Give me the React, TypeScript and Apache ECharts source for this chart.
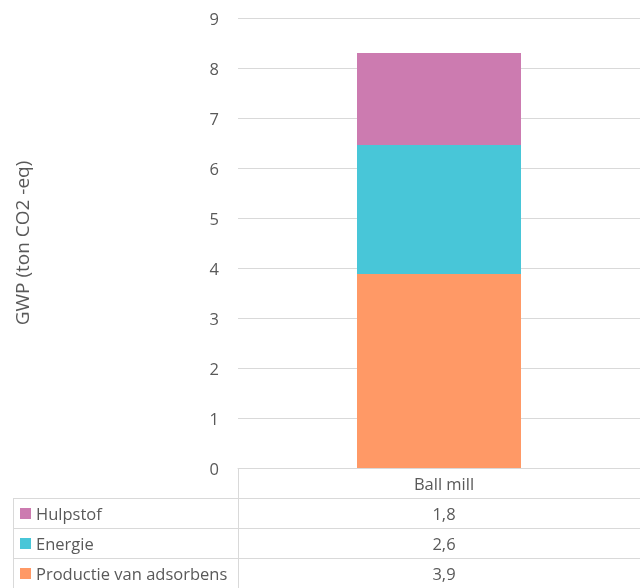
import React, { useEffect, useRef } from "react";
import * as echarts from "echarts";

const categories = ["Ball mill"];
const seriesNames = ["Productie van adsorbens", "Energie", "Hulpstof"];
const productieValues = [3.88];
const energieValues = [2.58];
const hulpstofValues = [1.84];
const yTicks = [0, 1, 2, 3, 4, 5, 6, 7, 8, 9];

const COLORS = {
  productie: "#FF9966",
  energie: "#48C6D8",
  hulpstof: "#CC7BB0",
};
const TEXT = "#595959";
const LINE = "#D9D9D9";
const FONT = "'Open Sans', 'Noto Sans', sans-serif";

export default function App() {
  const ref = useRef<HTMLDivElement>(null);
  useEffect(() => {
    if (!ref.current) return;
    const chart = echarts.init(ref.current, undefined, { renderer: "svg" });

    const W = 640;
    const gridLeft = 238;
    const gridRightEdge = 650;
    const tableTop = 468;
    const rowH = 30;
    const tableLeft = 13;
    const colCenter = (gridLeft + gridRightEdge) / 2;
    const tfont = `16.5px ${FONT}`;

    const rows = [
      { name: seriesNames[2], color: COLORS.hulpstof, values: hulpstofValues },
      { name: seriesNames[1], color: COLORS.energie, values: energieValues },
      { name: seriesNames[0], color: COLORS.productie, values: productieValues },
    ];
    const fmt = (v: number) => v.toFixed(1).replace(".", ",");

    const graphics: any[] = [];
    graphics.push({
      type: "line",
      shape: { x1: gridLeft + 0.5, y1: tableTop, x2: gridLeft + 0.5, y2: 588 },
      style: { stroke: LINE, lineWidth: 1 },
    });
    graphics.push({
      type: "line",
      shape: { x1: tableLeft + 0.5, y1: tableTop + rowH, x2: tableLeft + 0.5, y2: 588 },
      style: { stroke: LINE, lineWidth: 1 },
    });
    categories.forEach((c) => {
      graphics.push({
        type: "text",
        x: colCenter,
        y: tableTop + rowH / 2,
        style: { text: c, fill: TEXT, font: tfont, align: "center", verticalAlign: "middle" },
      });
    });
    rows.forEach((r, i) => {
      const y0 = tableTop + rowH * (i + 1);
      graphics.push({
        type: "line",
        shape: { x1: tableLeft, y1: y0 + 0.5, x2: W, y2: y0 + 0.5 },
        style: { stroke: LINE, lineWidth: 1 },
      });
      graphics.push({
        type: "rect",
        shape: { x: 20, y: y0 + 10, width: 11, height: 11 },
        style: { fill: r.color },
      });
      graphics.push({
        type: "text",
        x: 36,
        y: y0 + rowH / 2,
        style: { text: r.name, fill: TEXT, font: tfont, align: "left", verticalAlign: "middle" },
      });
      r.values.forEach((v) => {
        graphics.push({
          type: "text",
          x: colCenter,
          y: y0 + rowH / 2,
          style: { text: fmt(v), fill: TEXT, font: tfont, align: "center", verticalAlign: "middle" },
        });
      });
    });

    chart.setOption({
      animation: false,
      grid: { left: gridLeft, width: gridRightEdge - gridLeft, top: 18, bottom: 588 - tableTop },
      xAxis: {
        type: "category",
        data: categories,
        axisLine: { show: true, lineStyle: { color: LINE, width: 1 } },
        axisTick: { show: false },
        axisLabel: { show: false },
      },
      yAxis: {
        type: "value",
        min: yTicks[0],
        max: yTicks[yTicks.length - 1],
        interval: 1,
        name: "GWP (ton CO2 -eq)",
        nameLocation: "middle",
        nameGap: 207,
        nameRotate: 90,
        nameTextStyle: { color: TEXT, fontSize: 19, fontFamily: FONT },
        axisLine: { show: false },
        axisTick: { show: false },
        axisLabel: { color: TEXT, fontSize: 16.5, fontFamily: FONT, margin: 19 },
        splitLine: { lineStyle: { color: LINE, width: 1 } },
      },
      series: [
        { name: seriesNames[0], type: "bar", stack: "a", data: productieValues, barWidth: 164, itemStyle: { color: COLORS.productie } },
        { name: seriesNames[1], type: "bar", stack: "a", data: energieValues, itemStyle: { color: COLORS.energie } },
        { name: seriesNames[2], type: "bar", stack: "a", data: hulpstofValues, itemStyle: { color: COLORS.hulpstof } },
      ],
      graphic: graphics,
    });
    return () => chart.dispose();
  }, []);
  return <div ref={ref} style={{ position: "fixed", left: 0, top: 0, width: 640, height: 588 }} />;
}
